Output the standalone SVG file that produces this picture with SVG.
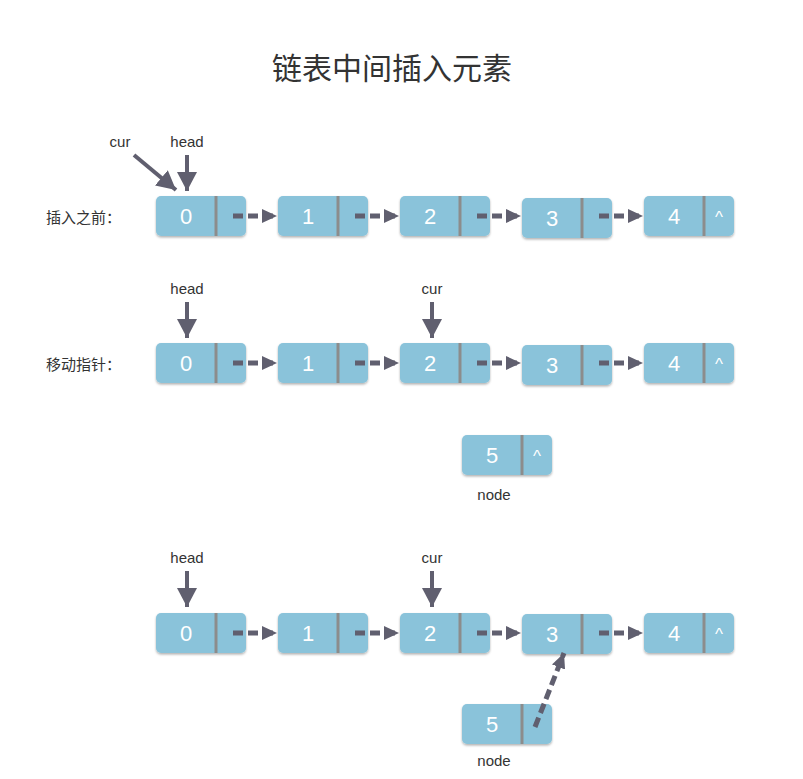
<svg xmlns="http://www.w3.org/2000/svg" width="803" height="779" viewBox="0 0 803 779">
<defs>
<filter id="sh" x="-10%" y="-20%" width="120%" height="150%">
<feDropShadow dx="0" dy="1.5" stdDeviation="1.2" flood-color="#000" flood-opacity="0.3"/>
</filter>
<marker id="ah" markerWidth="16" markerHeight="14" refX="15" refY="7" orient="auto" markerUnits="userSpaceOnUse">
<path d="M0,0 L15,7 L0,14 Z" fill="#605f6f"/>
</marker>
<marker id="ph" markerWidth="20" markerHeight="20" refX="19" refY="10" orient="auto" markerUnits="userSpaceOnUse">
<path d="M0,0 L19,10 L0,20 Z" fill="#605f6f"/>
</marker>
</defs>
<style>
.box{fill:#8ac3da;filter:url(#sh)}
.div{stroke:#8c8c8c;stroke-width:3}
.num{font-family:"Liberation Sans",Arial,sans-serif;font-size:22px;fill:#ffffff;text-anchor:middle}
.nil{font-family:"Liberation Sans",Arial,sans-serif;font-size:17px;fill:#ffffff;text-anchor:middle}
.lbl{font-family:"Liberation Sans",Arial,sans-serif;font-size:15px;fill:#333333;text-anchor:middle}
.side{font-family:"Noto Sans CJK SC",sans-serif;font-size:15px;fill:#333333}
.title{font-family:"Noto Sans CJK SC",sans-serif;font-size:30px;fill:#333333;text-anchor:middle}
.dash{stroke:#605f6f;stroke-width:5;stroke-dasharray:10,5;fill:none;marker-end:url(#ah)}
.ptr{stroke:#605f6f;stroke-width:4;fill:none;marker-end:url(#ph)}
</style>
<text class="title" x="392" y="79">链表中间插入元素</text>
<text class="side" x="46" y="223">插入之前：</text>
<text class="side" x="46" y="370">移动指针：</text>

<!-- Row 1 -->
<g id="r1n0"><rect class="box" x="156" y="196" width="90" height="40" rx="5"/><line class="div" x1="216" y1="196" x2="216" y2="236"/><text class="num" x="186" y="224">0</text></g>
<g id="r1n1"><rect class="box" x="278" y="196" width="90" height="40" rx="5"/><line class="div" x1="338" y1="196" x2="338" y2="236"/><text class="num" x="308" y="224">1</text></g>
<g id="r1n2"><rect class="box" x="400" y="196" width="90" height="40" rx="5"/><line class="div" x1="460" y1="196" x2="460" y2="236"/><text class="num" x="430" y="224">2</text></g>
<g id="r1n3"><rect class="box" x="522" y="198" width="90" height="40" rx="5"/><line class="div" x1="582" y1="198" x2="582" y2="238"/><text class="num" x="552" y="226">3</text></g>
<g id="r1n4"><rect class="box" x="644" y="196" width="90" height="40" rx="5"/><line class="div" x1="704" y1="196" x2="704" y2="236"/><text class="num" x="674" y="224">4</text><text class="nil" x="719" y="223">^</text></g>
<g id="r1labels"><text class="lbl" x="120" y="147">cur</text><text class="lbl" x="187" y="147">head</text></g>

<!-- Row 2 -->
<g id="r2n0"><rect class="box" x="156" y="343" width="90" height="40" rx="5"/><line class="div" x1="216" y1="343" x2="216" y2="383"/><text class="num" x="186" y="371">0</text></g>
<g id="r2n1"><rect class="box" x="278" y="343" width="90" height="40" rx="5"/><line class="div" x1="338" y1="343" x2="338" y2="383"/><text class="num" x="308" y="371">1</text></g>
<g id="r2n2"><rect class="box" x="400" y="343" width="90" height="40" rx="5"/><line class="div" x1="460" y1="343" x2="460" y2="383"/><text class="num" x="430" y="371">2</text></g>
<g id="r2n3"><rect class="box" x="522" y="345" width="90" height="40" rx="5"/><line class="div" x1="582" y1="345" x2="582" y2="385"/><text class="num" x="552" y="373">3</text></g>
<g id="r2n4"><rect class="box" x="644" y="343" width="90" height="40" rx="5"/><line class="div" x1="704" y1="343" x2="704" y2="383"/><text class="num" x="674" y="371">4</text><text class="nil" x="719" y="370">^</text></g>
<g id="r2labels"><text class="lbl" x="187" y="294">head</text><text class="lbl" x="432" y="294">cur</text></g>
<g id="r2node5"><rect class="box" x="462" y="435" width="90" height="40" rx="5"/><line class="div" x1="522" y1="435" x2="522" y2="475"/><text class="num" x="492" y="463">5</text><text class="nil" x="537" y="462">^</text><text class="lbl" x="494" y="500">node</text></g>

<!-- Row 3 -->
<g id="r3n0"><rect class="box" x="156" y="613" width="90" height="40" rx="5"/><line class="div" x1="216" y1="613" x2="216" y2="653"/><text class="num" x="186" y="641">0</text></g>
<g id="r3n1"><rect class="box" x="278" y="613" width="90" height="40" rx="5"/><line class="div" x1="338" y1="613" x2="338" y2="653"/><text class="num" x="308" y="641">1</text></g>
<g id="r3n2"><rect class="box" x="400" y="613" width="90" height="40" rx="5"/><line class="div" x1="460" y1="613" x2="460" y2="653"/><text class="num" x="430" y="641">2</text></g>
<g id="r3n3"><rect class="box" x="522" y="614" width="90" height="40" rx="5"/><line class="div" x1="582" y1="614" x2="582" y2="654"/><text class="num" x="552" y="642">3</text></g>
<g id="r3n4"><rect class="box" x="644" y="613" width="90" height="40" rx="5"/><line class="div" x1="704" y1="613" x2="704" y2="653"/><text class="num" x="674" y="641">4</text><text class="nil" x="719" y="640">^</text></g>
<g id="r3labels"><text class="lbl" x="187" y="563">head</text><text class="lbl" x="432" y="563">cur</text></g>
<g id="r3node5"><rect class="box" x="462" y="704" width="90" height="40" rx="5"/><line class="div" x1="522" y1="704" x2="522" y2="744"/><text class="num" x="492" y="732">5</text><text class="lbl" x="494" y="766">node</text></g>

<g id="connectors">
<line class="dash" x1="233" y1="216" x2="277" y2="216"/>
<line class="dash" x1="355" y1="216" x2="399" y2="216"/>
<line class="dash" x1="477" y1="216" x2="521" y2="216"/>
<line class="dash" x1="599" y1="216" x2="643" y2="216"/>
<line class="ptr" x1="134" y1="155" x2="176" y2="190"/>
<line class="ptr" x1="187" y1="155" x2="187" y2="191"/>
<line class="dash" x1="233" y1="363" x2="277" y2="363"/>
<line class="dash" x1="355" y1="363" x2="399" y2="363"/>
<line class="dash" x1="477" y1="363" x2="521" y2="363"/>
<line class="dash" x1="599" y1="363" x2="643" y2="363"/>
<line class="ptr" x1="187" y1="302" x2="187" y2="338"/>
<line class="ptr" x1="432" y1="302" x2="432" y2="338"/>
<line class="dash" x1="233" y1="633" x2="277" y2="633"/>
<line class="dash" x1="355" y1="633" x2="399" y2="633"/>
<line class="dash" x1="477" y1="633" x2="521" y2="633"/>
<line class="dash" x1="599" y1="633" x2="643" y2="633"/>
<line class="ptr" x1="187" y1="571" x2="187" y2="607"/>
<line class="ptr" x1="432" y1="571" x2="432" y2="607"/>
<line class="dash" x1="535" y1="727" x2="564" y2="653"/>
</g>
</svg>
